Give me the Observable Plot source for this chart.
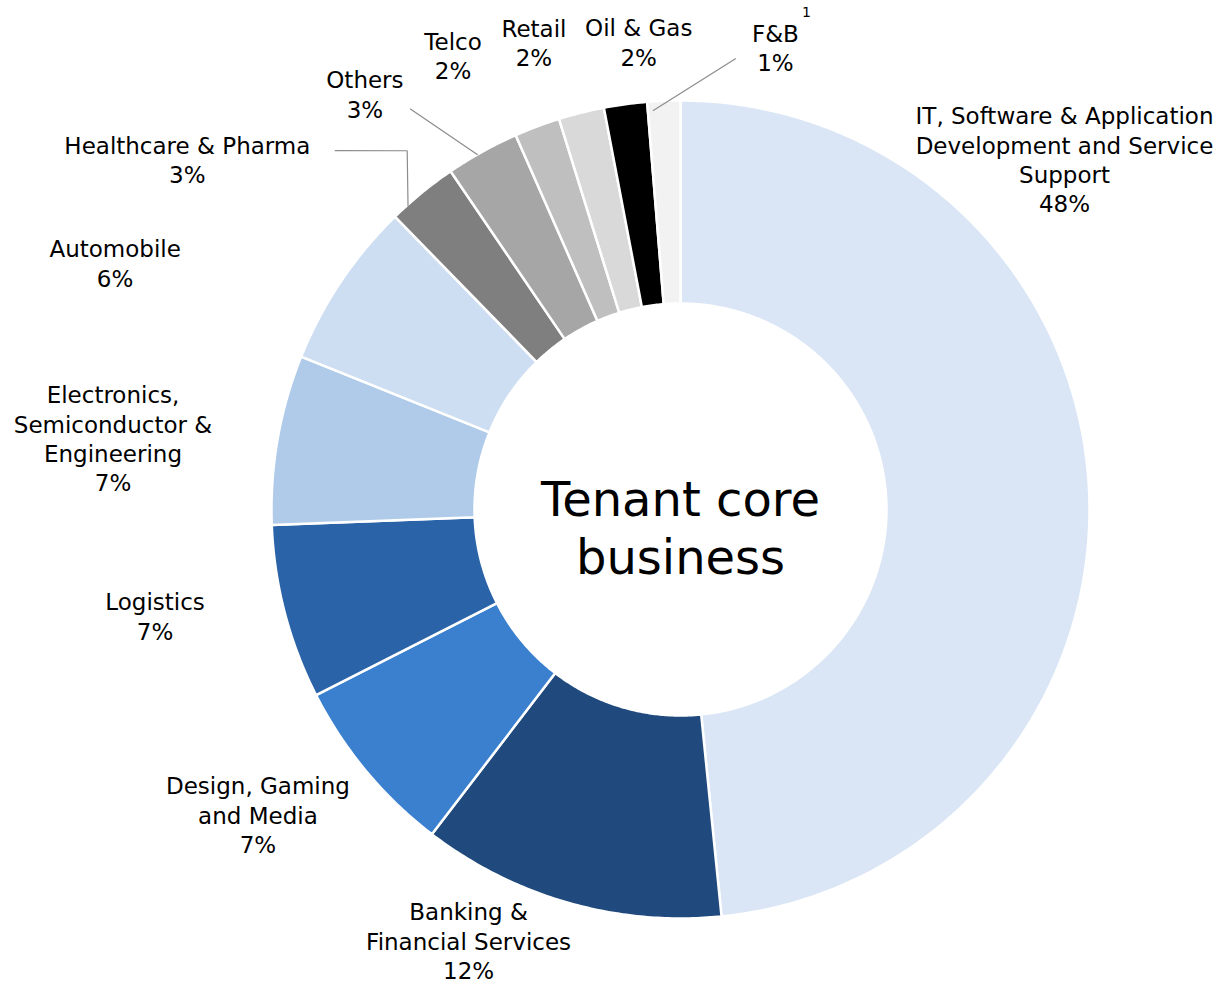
<!DOCTYPE html>
<html>
<head>
<meta charset="utf-8">
<script src="https://cdn.jsdelivr.net/npm/d3@7"></script>
<script src="https://cdn.jsdelivr.net/npm/@observablehq/plot@0.6"></script>
<style>
  html, body { margin: 0; padding: 0; background: #fff; }
  #chart { width: 1222px; height: 984px; }
</style>
</head>
<body>
<div id="chart"></div>
<script>
// ---- data ----
const categories = [
  "IT, Software & Application\nDevelopment and Service\nSupport",
  "Banking &\nFinancial Services",
  "Design, Gaming\nand Media",
  "Logistics",
  "Electronics,\nSemiconductor &\nEngineering",
  "Automobile",
  "Healthcare & Pharma",
  "Others",
  "Telco",
  "Retail",
  "Oil & Gas",
  "F&B"
];
const shares = [48.4, 12.0, 7.1, 6.9, 6.7, 6.6, 2.8, 2.9, 1.8, 1.8, 1.7, 1.3];
const percentLabels = ["48%", "12%", "7%", "7%", "7%", "6%", "3%", "3%", "2%", "2%", "2%", "1%"];
const colors = ["#dae6f5", "#204a7d", "#3b80cf", "#2a63a8", "#b0cbea", "#cddef2",
                "#7f7f7f", "#a6a6a6", "#bfbfbf", "#d9d9d9", "#000000", "#f2f2f2"];
const centerTitle = "Tenant core\nbusiness";
const footnoteMark = "1";

// ---- layout ----
const W = 1222, H = 984;
const outerR = 409, innerR = 206;
// label anchors in polar form: [angle deg clockwise from 12 o'clock, distance from centre]
const labelPolar = [
  [47.6, 520], [206.2, 480], [234.2, 521], [258.6, 536], [277.2, 572], [293.6, 617],
  [305.4, 605], [322.8, 522], [333.4, 508], [342.6, 490], [354.9, 470], [11.6, 472]
];
// leader lines: [slice index, points as [angle, distance]]
const leaders = [
  [6, [[316.1, 498], [322.7, 451], [318.1, 408]]],
  [7, [[326.0, 483], [330.2, 409]]],
  [11, [[6.95, 454], [356.1, 400]]]
];

const pie = d3.pie().sort(null).value(d => d)(shares);
const rad = a => a * Math.PI / 180;
const polar = (aDeg, r) => [r * Math.sin(rad(aDeg)), -r * Math.cos(rad(aDeg))];

// slice outlines (sampled arcs, in the chart's data units)
const slicePts = [];
pie.forEach((p, i) => {
  const a0 = p.startAngle * 180 / Math.PI, a1 = p.endAngle * 180 / Math.PI;
  const n = Math.max(4, Math.ceil((a1 - a0) / 0.5));
  const ring = [];
  for (let k = 0; k <= n; k++) ring.push(polar(a0 + (a1 - a0) * k / n, outerR));
  for (let k = n; k >= 0; k--) ring.push(polar(a0 + (a1 - a0) * k / n, innerR));
  ring.push(ring[0]);
  ring.forEach(([x, y], j) => slicePts.push({slice: categories[i], color: colors[i], x, y, j}));
});

const labelData = categories.map((c, i) => {
  const [x, y] = polar(labelPolar[i][0], labelPolar[i][1]);
  return {text: c + "\n" + percentLabels[i], x, y};
});

const leaderPts = [];
leaders.forEach(([idx, pts]) => pts.forEach(([a, r]) => {
  const [x, y] = polar(a, r);
  leaderPts.push({id: idx, x, y});
}));

const fb = labelData[11];
const footnote = [{text: footnoteMark, x: fb.x + 31, y: fb.y - 35}];

const font = "'Century Gothic', 'DejaVu Sans', sans-serif";

const chart = Plot.plot({
  width: W,
  height: H,
  margin: 0,
  x: {domain: [-680, 542], range: [0, W], axis: null},
  y: {domain: [-509, 475], range: [0, H], axis: null},
  style: {fontFamily: font, background: "#fff", color: "#000"},
  marks: [
    Plot.line(slicePts, {x: "x", y: "y", z: "slice", fill: "color", stroke: "#fff", strokeWidth: 2.5, strokeLinejoin: "round", curve: "linear"}),
    Plot.line(leaderPts, {x: "x", y: "y", z: "id", stroke: "#8c8c8c", strokeWidth: 1.2}),
    Plot.text(labelData, {x: "x", y: "y", text: "text", fontSize: 23, lineHeight: 1.28, fill: "#000", textAnchor: "middle", lineAnchor: "middle"}),
    Plot.text(footnote, {x: "x", y: "y", text: "text", fontSize: 14, fill: "#000"}),
    Plot.text([{text: centerTitle, x: 0, y: 17}], {x: "x", y: "y", text: "text", fontSize: 48, lineHeight: 1.21, fill: "#000", lineAnchor: "middle"})
  ]
});
document.getElementById("chart").appendChild(chart);
</script>
</body>
</html>
